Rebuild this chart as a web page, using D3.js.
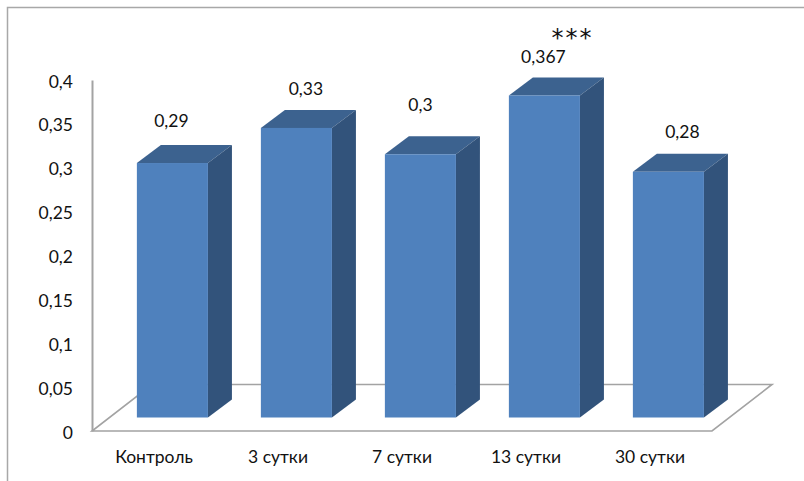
<!DOCTYPE html>
<html>
<head>
<meta charset="utf-8">
<script src="https://d3js.org/d3.v7.min.js"></script>
<style>
  html, body { margin: 0; padding: 0; background: #fff; }
  svg { display: block; }
  text { font-family: Lato, "Open Sans", sans-serif; fill: #111; }
</style>
</head>
<body>
<svg id="chart" width="804" height="481"></svg>
<script>
const categories = ["Контроль", "3 сутки", "7 сутки", "13 сутки", "30 сутки"];
const values = [0.29, 0.33, 0.30, 0.367, 0.28];
const valueLabels = ["0,29", "0,33", "0,3", "0,367", "0,28"];
const tickValues = [0, 0.05, 0.1, 0.15, 0.2, 0.25, 0.3, 0.35, 0.4];

const svg = d3.select("#chart");

// Plot frame on the front plane of the floor
const plot = { left: 92, right: 712, top: 80, bottom: 431 };
// Floor depth, and how far the bars stand back from its front edge
const floor = { dx: 60, dy: 46.5 };
const barShift = { dx: 18.4, dy: 13.5 };
const barDepth = { dx: 24, dy: 18 };

const x = d3.scaleBand().domain(categories).range([plot.left, plot.right]).paddingInner(0.427).paddingOuter(0.2135);
const y = d3.scaleLinear().domain([0, 0.4]).range([plot.bottom, plot.top]);

const lineColor = "#a3a3a3";

// Outer frame: only the top and left edges are visible
svg.append("path")
  .attr("d", "M7.5,481V7.5H804")
  .attr("fill", "none").attr("stroke", "#a8a8a8").attr("stroke-width", 1.5);

// Floor outline
const floorPath = d3.path();
floorPath.moveTo(plot.left, plot.bottom);
floorPath.lineTo(plot.right, plot.bottom);
floorPath.lineTo(plot.right + floor.dx, plot.bottom - floor.dy);
floorPath.lineTo(plot.left + floor.dx, plot.bottom - floor.dy);
floorPath.closePath();
svg.append("path").attr("d", floorPath.toString())
  .attr("fill", "#fff").attr("stroke", lineColor).attr("stroke-width", 1.6);

// Value axis
const yAxis = svg.append("g")
  .attr("transform", `translate(${plot.left},0)`)
  .call(d3.axisLeft(y).tickValues(tickValues).tickSize(0).tickPadding(19)
    .tickFormat(d => String(d).replace(".", ",")));
yAxis.select(".domain").attr("stroke", lineColor).attr("stroke-width", 2);
yAxis.selectAll("text").attr("font-size", 17.5).style("font-family", "Lato, sans-serif").attr("dy", "0.4em");

// Category axis
const xAxis = svg.append("g")
  .attr("transform", `translate(0,${plot.bottom})`)
  .call(d3.axisBottom(x).tickSize(0).tickPadding(19.5));
xAxis.select(".domain").remove();
xAxis.selectAll("text").attr("font-size", 17.5).style("font-family", "Lato, sans-serif");

// Bars: top and side faces first, front face over them
const bars = svg.append("g").selectAll("g")
  .data(categories.map((c, i) => ({ c, v: values[i], label: valueLabels[i] })))
  .join("g")
  .attr("transform", `translate(${barShift.dx},${-barShift.dy})`);

const face = pts => d3.line()(pts) + "Z";

bars.append("path").attr("fill", "#3c628f")
  .attr("d", d => {
    const l = x(d.c), r = l + x.bandwidth(), t = y(d.v);
    return face([[l, t], [r, t], [r + barDepth.dx, t - barDepth.dy], [l + barDepth.dx, t - barDepth.dy]]);
  });

bars.append("path").attr("fill", "#32537b")
  .attr("d", d => {
    const r = x(d.c) + x.bandwidth(), t = y(d.v), b = y(0);
    return face([[r, t], [r + barDepth.dx, t - barDepth.dy], [r + barDepth.dx, b - barDepth.dy], [r, b]]);
  });

bars.append("rect").attr("fill", "#4f81bd")
  .attr("x", d => x(d.c))
  .attr("y", d => y(d.v))
  .attr("width", x.bandwidth())
  .attr("height", d => y(0) - y(d.v));

// Value labels, placed by hand above each bar as in the source layout
const labelNudge = [
  { dx: -1, dy: -36 }, { dx: 9.5, dy: -33 }, { dx: 0, dy: -43 }, { dx: -1, dy: -32 }, { dx: 14, dy: -33.5 }
];
bars.append("text")
  .attr("text-anchor", "middle")
  .attr("font-size", 17.5)
  .attr("x", (d, i) => x(d.c) + x.bandwidth() / 2 + labelNudge[i].dx)
  .attr("y", (d, i) => y(d.v) + labelNudge[i].dy)
  .text(d => d.label);

// Significance mark over the 13th day bar
svg.append("text")
  .attr("x", x("13 сутки") + x.bandwidth() / 2 + barShift.dx + 28)
  .attr("y", 46)
  .attr("text-anchor", "middle")
  .attr("font-size", 24)
  .attr("letter-spacing", 2)
  .style("font-family", "'DejaVu Sans', sans-serif")
  .text("***");
</script>
</body>
</html>
